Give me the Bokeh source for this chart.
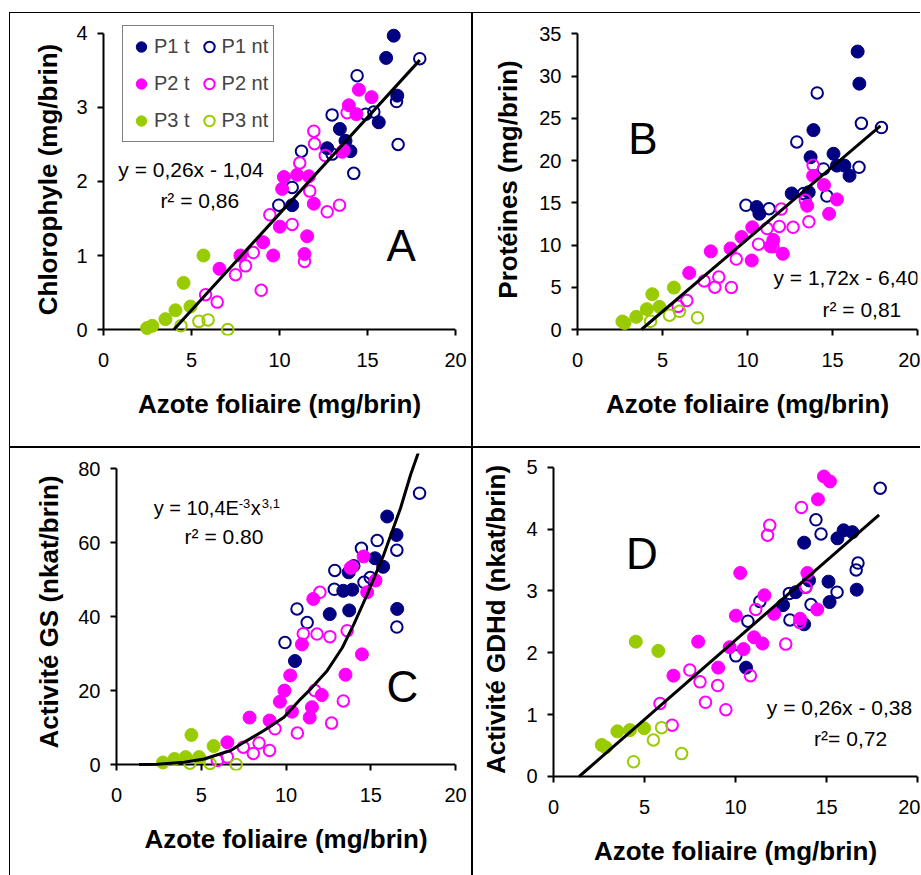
from bokeh.plotting import figure
from bokeh.models import Range1d, FixedTicker, Span, Label, Legend, LegendItem, Spacer
from bokeh.layouts import row, column
from bokeh.embed import file_html
from bokeh.resources import INLINE

NAVY = "#000080"
MAG = "#FF00FF"
GRN = "#99CC00"
FONT = "Liberation Sans"

X_TICKS = [0, 5, 10, 15, 20]
X_LABEL = "Azote foliaire (mg/brin)"

# ---------------- Panel A : Chlorophyle ----------------
A_p1t_x = [16.49, 16.06, 16.69, 15.64, 13.43, 13.75, 14.03, 12.71, 10.72]
A_p1t_y = [3.97, 3.67, 3.16, 2.80, 2.71, 2.55, 2.41, 2.45, 1.68]
A_p1nt_x = [17.97, 14.41, 16.65, 12.99, 15.36, 14.9, 16.74, 11.25, 14.22, 10.72, 9.96, 12.99]
A_p1nt_y = [3.66, 3.43, 3.08, 2.90, 2.94, 2.91, 2.50, 2.41, 2.11, 1.92, 1.68, 2.37]
A_p2t_x = [14.51, 15.23, 13.94, 14.37, 13.65, 10.25, 11.0, 11.67, 10.15, 11.95, 10.02, 9.07, 9.64, 11.57, 11.42, 7.78, 6.59]
A_p2t_y = [3.24, 3.14, 3.03, 2.91, 2.42, 2.06, 2.09, 2.07, 1.90, 1.70, 1.39, 1.18, 1.00, 1.26, 1.02, 1.00, 0.82]
A_p2nt_x = [13.84, 11.95, 11.99, 12.6, 13.56, 11.15, 11.72, 12.71, 13.41, 9.45, 10.72, 8.51, 8.07, 7.50, 11.42, 8.96, 5.80, 6.46]
A_p2nt_y = [2.93, 2.68, 2.51, 2.35, 2.40, 2.25, 1.87, 1.59, 1.68, 1.55, 1.42, 1.04, 0.86, 0.74, 0.92, 0.53, 0.47, 0.37]
A_p3t_x = [5.68, 4.55, 4.94, 4.09, 3.52, 2.77, 2.48]
A_p3t_y = [1.00, 0.63, 0.31, 0.26, 0.14, 0.05, 0.02]
A_p3nt_x = [4.4, 5.42, 5.94, 7.06]
A_p3nt_y = [0.05, 0.11, 0.13, 0.0]
A_trend_x = [4.0, 17.97]
A_trend_y = [0.0, 3.64]
A_yticks = [0, 1, 2, 3, 4]

# ---------------- Panel B : Protéines ----------------
B_p1t_x = [16.48, 16.58, 13.88, 13.71, 15.06, 15.26, 15.7, 16.0, 12.6, 13.6, 10.54, 10.7]
B_p1t_y = [32.9, 29.1, 23.6, 20.4, 20.8, 19.4, 19.4, 18.2, 16.1, 16.25, 14.5, 13.7]
B_p1nt_x = [14.1, 16.7, 17.88, 12.9, 16.56, 14.47, 14.67, 9.91, 11.27, 13.3]
B_p1nt_y = [28.0, 24.4, 23.9, 22.2, 19.2, 19.0, 15.8, 14.7, 14.3, 16.1]
B_p2t_x = [13.86, 14.5, 15.26, 13.51, 14.8, 10.28, 9.65, 11.52, 11.36, 12.08, 10.25, 9.0, 7.84, 6.57]
B_p2t_y = [18.2, 17.1, 15.4, 14.65, 13.7, 12.1, 10.95, 10.6, 9.85, 8.96, 8.17, 9.6, 9.25, 6.7]
B_p2nt_x = [13.86, 13.4, 11.98, 12.68, 13.61, 11.87, 11.15, 10.65, 11.5, 9.34, 7.45, 8.31, 8.08, 9.05, 6.43, 5.92]
B_p2nt_y = [19.45, 15.3, 14.25, 12.1, 12.75, 12.2, 11.95, 10.1, 9.8, 8.34, 5.74, 6.2, 5.0, 4.98, 3.43, 2.74]
B_p3t_x = [5.67, 4.4, 4.82, 4.08, 3.46, 2.77, 2.64]
B_p3t_y = [4.96, 4.18, 2.68, 2.41, 1.5, 0.77, 0.95]
B_p3nt_x = [5.41, 6.0, 7.06, 4.3]
B_p3nt_y = [1.7, 2.15, 1.4, 0.97]
B_trend_x = [3.76, 17.82]
B_trend_y = [0.0, 24.1]
B_yticks = [0, 5, 10, 15, 20, 25, 30, 35]

# ---------------- Panel C : Activité GS ----------------
C_p1t_x = [15.97, 16.52, 15.25, 15.73, 13.38, 13.91, 13.7, 13.73, 12.58, 16.56, 10.53]
C_p1t_y = [67.1, 62.1, 55.8, 53.5, 47.0, 47.3, 52.0, 41.7, 40.7, 42.1, 28.0]
C_p1nt_x = [17.88, 16.54, 15.38, 14.45, 12.88, 12.85, 14.0, 14.6, 14.97, 16.54, 10.65, 11.25, 9.94]
C_p1nt_y = [73.4, 58.0, 60.6, 58.5, 52.5, 47.4, 53.8, 49.3, 50.6, 37.2, 42.1, 38.4, 33.0]
C_p2t_x = [14.58, 13.81, 15.28, 14.79, 11.61, 10.94, 14.48, 10.25, 13.51, 9.91, 9.64, 12.11, 11.53, 11.4, 10.35, 7.85, 9.03, 6.54]
C_p2t_y = [56.3, 53.2, 49.8, 46.6, 44.8, 32.5, 29.8, 24.1, 24.3, 20.0, 17.0, 18.8, 15.5, 12.7, 14.3, 12.7, 11.9, 6.0]
C_p2nt_x = [13.9, 12.0, 11.83, 11.02, 12.59, 13.61, 11.7, 13.38, 12.69, 10.67, 9.35, 8.41, 8.07, 9.03, 7.48, 6.54, 5.95]
C_p2nt_y = [53.5, 46.6, 35.3, 35.4, 34.6, 36.2, 20.0, 17.2, 11.2, 8.5, 9.65, 5.8, 3.0, 3.8, 4.7, 2.0, 1.1]
C_p3t_x = [4.42, 5.73, 4.87, 4.08, 3.42, 2.74]
C_p3t_y = [8.0, 5.0, 2.0, 2.0, 1.5, 0.55]
C_p3nt_x = [4.33, 5.52, 7.06]
C_p3nt_y = [0.35, 0.3, 0.0]
C_trend_x = [1.33, 2.41, 3.99, 5.17, 6.74, 7.52, 8.70, 9.88, 10.86, 11.45, 12.43, 13.32, 14.0, 14.79, 15.77, 16.76, 17.35, 17.94]
C_trend_y = [0.0, 0.1, 0.6, 1.5, 3.8, 6.0, 9.2, 12.8, 17.7, 20.4, 25.4, 31.6, 37.9, 46.0, 56.8, 69.4, 78.4, 86.1]
C_yticks = [0, 20, 40, 60, 80]

# ---------------- Panel D : Activité GDHd ----------------
D_p1t_x = [15.94, 16.42, 15.6, 13.77, 15.11, 16.66, 15.17, 13.77, 12.61, 13.31, 14.04, 10.58]
D_p1t_y = [3.98, 3.95, 3.85, 3.78, 3.15, 3.02, 2.82, 2.46, 2.77, 2.98, 3.17, 1.76]
D_p1nt_x = [17.95, 14.42, 14.7, 16.73, 16.63, 15.58, 14.15, 12.96, 12.99, 11.34, 10.68, 10.02, 13.86]
D_p1nt_y = [4.66, 4.15, 3.92, 3.45, 3.34, 2.98, 2.78, 2.96, 2.53, 2.83, 2.51, 1.95, 3.06]
D_p2t_x = [14.86, 15.19, 14.53, 10.26, 13.95, 11.59, 10.02, 12.12, 13.55, 14.49, 11.02, 11.48, 10.44, 9.68, 7.95, 9.05, 6.59]
D_p2t_y = [4.85, 4.77, 4.48, 3.29, 3.29, 2.93, 2.60, 2.63, 2.55, 2.70, 2.25, 2.15, 2.06, 2.09, 2.18, 1.76, 1.63]
D_p2nt_x = [13.62, 11.88, 11.76, 13.86, 11.11, 13.53, 12.76, 10.82, 7.49, 8.05, 9.02, 8.35, 9.47, 5.85, 6.52]
D_p2nt_y = [4.35, 4.06, 3.90, 3.06, 2.70, 2.49, 2.14, 1.63, 1.72, 1.53, 1.47, 1.20, 1.08, 1.18, 0.83]
D_p3t_x = [4.52, 5.76, 4.98, 4.2, 3.51, 2.65, 2.87]
D_p3t_y = [2.18, 2.03, 0.78, 0.75, 0.73, 0.51, 0.47]
D_p3nt_x = [5.94, 5.49, 7.04, 4.4]
D_p3nt_y = [0.79, 0.59, 0.37, 0.24]
D_trend_x = [1.41, 17.89]
D_trend_y = [0.0, 4.23]
D_yticks = [0, 1, 2, 3, 4, 5]


def make_panel(w, h, bl, bt, br, bb, y_range, yticks, ylabel, y_standoff,
               x_standoff=19, x_label_lh=None):
    p = figure(width=w, height=h, output_backend="svg", toolbar_location=None,
               x_range=Range1d(0, 20), y_range=Range1d(*y_range),
               min_border_left=bl, min_border_top=bt, min_border_right=br,
               min_border_bottom=bb)
    try:
        p.frame_align = False
    except Exception:
        pass
    p.outline_line_color = None
    p.grid.visible = False
    p.background_fill_color = "white"
    p.border_fill_color = "white"

    xa = p.xaxis[0]
    xa.ticker = FixedTicker(ticks=X_TICKS)
    xa.axis_line_color = None
    xa.major_tick_in = 6
    xa.major_tick_out = 0
    xa.major_tick_line_width = 2
    xa.major_tick_line_color = "black"
    xa.minor_tick_line_color = None
    xa.major_label_text_font = FONT
    xa.major_label_text_font_size = "20px"
    xa.major_label_text_color = "black"
    xa.major_label_standoff = 17
    xa.axis_label = X_LABEL
    xa.axis_label_text_font = FONT
    xa.axis_label_text_font_style = "bold"
    xa.axis_label_text_font_size = "26px"
    xa.axis_label_text_color = "black"
    xa.axis_label_standoff = x_standoff
    if x_label_lh is not None:
        xa.axis_label_text_line_height = x_label_lh

    ya = p.yaxis[0]
    ya.ticker = FixedTicker(ticks=yticks)
    ya.bounds = (yticks[0], yticks[-1])
    ya.axis_line_width = 2
    ya.axis_line_color = "black"
    ya.major_tick_in = 0
    ya.major_tick_out = 6
    ya.major_tick_line_width = 2
    ya.major_tick_line_color = "black"
    ya.minor_tick_line_color = None
    ya.major_label_text_font = FONT
    ya.major_label_text_font_size = "20px"
    ya.major_label_text_color = "black"
    ya.major_label_standoff = 10
    ya.axis_label = ylabel
    ya.axis_label_text_font = FONT
    ya.axis_label_text_font_style = "bold"
    ya.axis_label_text_font_size = "26px"
    ya.axis_label_text_color = "black"
    ya.axis_label_standoff = y_standoff

    p.add_layout(Span(location=0, dimension="width", line_color="black",
                      line_width=2, level="underlay"))
    return p


def add_series(p, data):
    rs = []
    for (xs, ys, color, filled) in data:
        if filled:
            r = p.scatter(xs, ys, size=13, marker="circle", fill_color=color,
                          line_color=color, line_width=1)
        else:
            r = p.scatter(xs, ys, size=11.5, marker="circle", fill_color=None,
                          line_color=color, line_width=2)
        rs.append(r)
    return rs


def add_text(p, x, y, text, size="21px", align="center", baseline="middle",
             x_offset=0, y_offset=0):
    p.add_layout(Label(x=x, y=y, text=text, text_font=FONT, text_font_size=size,
                       text_align=align, text_baseline=baseline, text_color="black",
                       x_offset=x_offset, y_offset=y_offset))


# ---------- A ----------
pA = make_panel(461, 433, 93, 10, 16, 111, (-0.081, 4.135), A_yticks,
                "Chlorophyle (mg/brin)", 10)
rA = add_series(pA, [(A_p1t_x, A_p1t_y, NAVY, True), (A_p1nt_x, A_p1nt_y, NAVY, False),
                     (A_p2t_x, A_p2t_y, MAG, True), (A_p2nt_x, A_p2nt_y, MAG, False),
                     (A_p3t_x, A_p3t_y, GRN, True), (A_p3nt_x, A_p3nt_y, GRN, False)])
pA.line(A_trend_x, A_trend_y, line_color="black", line_width=3)
add_text(pA, 4.97, 2.16, "y = 0,26x - 1,04")
add_text(pA, 5.47, 1.74, "r² = 0,86")
add_text(pA, 16.92, 1.13, "A", size="44px")
legend = Legend(items=[
    LegendItem(label="P1 t", renderers=[rA[0]]), LegendItem(label="P1 nt", renderers=[rA[1]]),
    LegendItem(label="P2 t", renderers=[rA[2]]), LegendItem(label="P2 nt", renderers=[rA[3]]),
    LegendItem(label="P3 t", renderers=[rA[4]]), LegendItem(label="P3 nt", renderers=[rA[5]]),
], location=(19, 193), orientation="horizontal", ncols=2,
    glyph_width=26, glyph_height=31, label_standoff=-1, spacing=6, padding=5,
    margin=0, border_line_color="black", border_line_width=1,
    background_fill_color="white", background_fill_alpha=1.0,
    label_text_font=FONT, label_text_font_size="20px", label_height=20)
pA.add_layout(legend)

# ---------- B ----------
pB = make_panel(447, 433, 104, 10, 3, 111, (-0.71, 36.22), B_yticks,
                "Protéines (mg/brin)", 13)
add_series(pB, [(B_p1t_x, B_p1t_y, NAVY, True), (B_p1nt_x, B_p1nt_y, NAVY, False),
                (B_p2t_x, B_p2t_y, MAG, True), (B_p2nt_x, B_p2nt_y, MAG, False),
                (B_p3t_x, B_p3t_y, GRN, True), (B_p3nt_x, B_p3nt_y, GRN, False)])
pB.line(B_trend_x, B_trend_y, line_color="black", line_width=3)
add_text(pB, 11.53, 6.19, "y = 1,72x - 6,40", align="left")
add_text(pB, 14.41, 2.33, "r² = 0,81", align="left")
add_text(pB, 3.85, 22.57, "B", size="44px")

# ---------- C ----------
pC = make_panel(461, 427, 106, 5, 16, 105, (-1.62, 84.15), C_yticks,
                "Activité GS (nkat/brin)", 11)
add_series(pC, [(C_p1t_x, C_p1t_y, NAVY, True), (C_p1nt_x, C_p1nt_y, NAVY, False),
                (C_p2t_x, C_p2t_y, MAG, True), (C_p2nt_x, C_p2nt_y, MAG, False),
                (C_p3t_x, C_p3t_y, GRN, True), (C_p3nt_x, C_p3nt_y, GRN, False)])
pC.line(C_trend_x, C_trend_y, line_color="black", line_width=3)
add_text(pC, 2.2, 69.3, "y = 10,4E", size="20px", align="left")
add_text(pC, 2.2, 69.3, "-3", size="13px", align="left", x_offset=85, y_offset=5)
add_text(pC, 2.2, 69.3, "x", size="20px", align="left", x_offset=97)
add_text(pC, 2.2, 69.3, "3,1", size="13px", align="left", x_offset=108, y_offset=5)
add_text(pC, 6.34, 61.6, "r² = 0.80")
add_text(pC, 16.86, 21.2, "C", size="44px")

# ---------- D ----------
pD = make_panel(447, 427, 80, 8, 3, 93, (-0.097, 5.173), D_yticks,
                "Activité GDHd (nkat/brin)", 12, x_standoff=19, x_label_lh=0.8)
add_series(pD, [(D_p1t_x, D_p1t_y, NAVY, True), (D_p1nt_x, D_p1nt_y, NAVY, False),
                (D_p2t_x, D_p2t_y, MAG, True), (D_p2nt_x, D_p2nt_y, MAG, False),
                (D_p3t_x, D_p3t_y, GRN, True), (D_p3nt_x, D_p3nt_y, GRN, False)])
pD.line(D_trend_x, D_trend_y, line_color="black", line_width=3)
add_text(pD, 11.72, 1.12, "y = 0,26x - 0,38", align="left")
add_text(pD, 14.32, 0.62, "r²= 0,72", align="left")
add_text(pD, 4.85, 3.6, "D", size="44px")


def blk(w, h):
    return Spacer(width=w, height=h, styles={"background-color": "black"})


def gap(w, h):
    return Spacer(width=w, height=h)


layout = column(
    gap(920, 12),
    row(gap(9, 1), blk(911, 1)),
    row(gap(9, 433), blk(1, 433), pA, blk(2, 433), pB),
    row(gap(9, 2), blk(911, 2)),
    row(gap(9, 427), blk(1, 427), pC, blk(2, 427), pD),
)

open("out.html", "w").write(file_html(layout, INLINE))
